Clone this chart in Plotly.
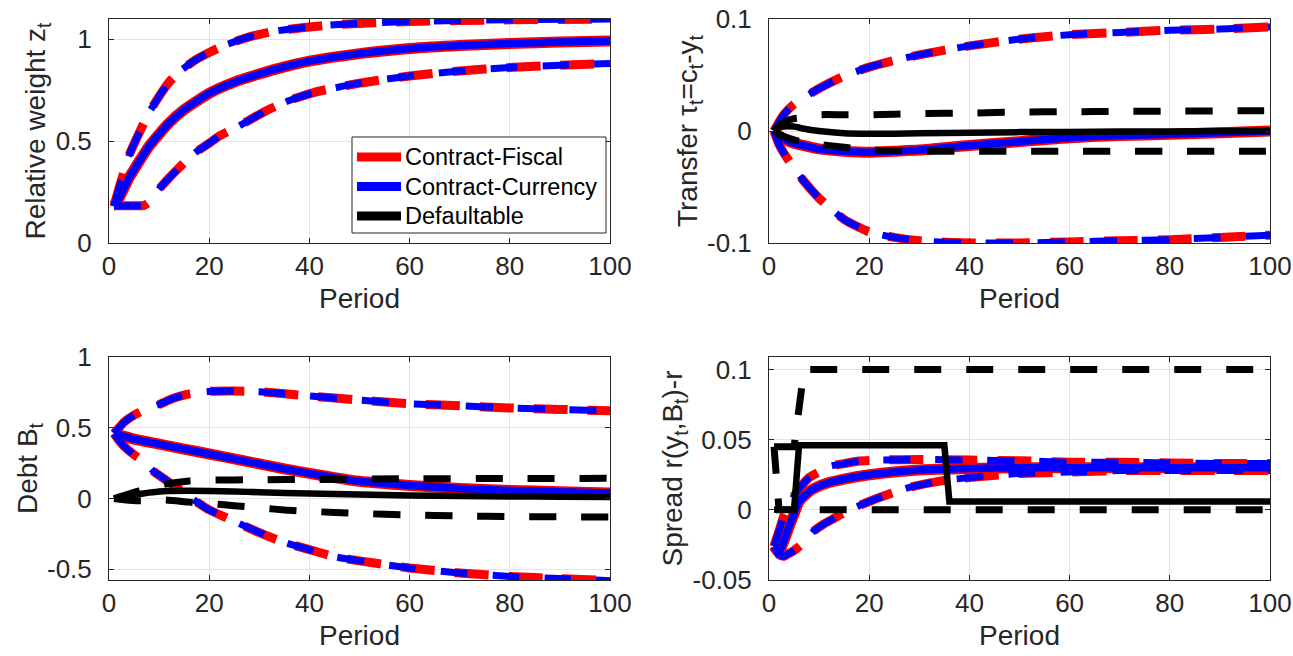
import plotly.graph_objects as go

# ---------------- DATA ----------------
# Panel 1: Relative weight z_t
z_p_mean = [1, 2, 3, 4, 5, 6, 8, 10, 12, 15, 20, 25, 30, 35, 40, 50, 60, 70, 80, 90, 100]
z_fis_mean = [0.185, 0.22, 0.27, 0.32, 0.36, 0.40, 0.475, 0.535, 0.59, 0.655, 0.735, 0.79, 0.83, 0.865, 0.893, 0.93, 0.955, 0.97, 0.98, 0.987, 0.992]
z_p_up = [1, 2, 3, 4, 6, 8, 10, 12, 14, 17, 20, 23, 28, 33, 39, 45, 60, 80, 100]
z_fis_up = [0.18, 0.27, 0.35, 0.43, 0.54, 0.64, 0.72, 0.79, 0.84, 0.895, 0.935, 0.97, 1.012, 1.04, 1.058, 1.072, 1.088, 1.096, 1.1]
z_p_lo = [1, 3, 5, 7, 8, 10, 12, 14, 17, 20, 22, 26, 31, 36, 41, 50, 60, 70, 80, 90, 100]
z_fis_lo = [0.183, 0.183, 0.183, 0.185, 0.2, 0.265, 0.32, 0.37, 0.44, 0.49, 0.525, 0.575, 0.645, 0.70, 0.74, 0.785, 0.82, 0.845, 0.862, 0.873, 0.882]
z_cur_mean = list(z_fis_mean)
z_cur_up = list(z_fis_up)
z_cur_lo = list(z_fis_lo)

# Panel 2: Transfer tau_t = c_t - y_t
tr_p = [1, 2, 3, 5, 7, 10, 15, 20, 25, 30, 40, 50, 60, 70, 80, 90, 100]
tr_fis_up = [0, 0.008, 0.015, 0.024, 0.03, 0.038, 0.049, 0.057, 0.063, 0.068, 0.076, 0.082, 0.086, 0.088, 0.09, 0.091, 0.093]
tr_fis_lo = [0, -0.012, -0.02, -0.033, -0.045, -0.06, -0.079, -0.09, -0.095, -0.098, -0.1, -0.1, -0.099, -0.098, -0.097, -0.095, -0.093]
tr_fis_mean = [0, -0.004, -0.007, -0.011, -0.013, -0.016, -0.018, -0.019, -0.018, -0.017, -0.013, -0.0095, -0.006, -0.004, -0.003, -0.0015, 0]
tr_cur_up = list(tr_fis_up)
tr_cur_lo = list(tr_fis_lo)
tr_cur_mean = list(tr_fis_mean)
tr_def_mean = [0, 0.003, 0.004, 0.004, 0.002, 0, -0.002, -0.0025, -0.0025, -0.002, -0.0015, -0.001, -0.001, -0.0005, -0.0005, 0, 0]
tr_def_up = [0, 0.005, 0.008, 0.011, 0.012, 0.0145, 0.0145, 0.0145, 0.015, 0.0155, 0.016, 0.017, 0.0172, 0.0175, 0.0177, 0.018, 0.018]
tr_def_lo = [0, -0.003, -0.005, -0.008, -0.01, -0.012, -0.0145, -0.017, -0.0175, -0.018, -0.018, -0.018, -0.018, -0.018, -0.018, -0.018, -0.018]

# Panel 3: Debt B_t
db_p_up = [1, 2, 3, 5, 7, 10, 13, 16, 20, 25, 30, 40, 50, 60, 70, 80, 90, 100]
db_fis_up = [0.46, 0.5, 0.54, 0.59, 0.625, 0.665, 0.71, 0.74, 0.757, 0.76, 0.755, 0.725, 0.695, 0.67, 0.655, 0.64, 0.63, 0.62]
db_p_lo = [1, 2, 3, 5, 7, 9, 11, 13, 15, 18, 20, 25, 30, 35, 40, 45, 50, 60, 70, 80, 90, 100]
db_fis_lo = [0.46, 0.41, 0.37, 0.31, 0.26, 0.19, 0.14, 0.09, 0.04, -0.035, -0.08, -0.16, -0.24, -0.31, -0.36, -0.41, -0.44, -0.49, -0.525, -0.55, -0.565, -0.58]
db_p_mean = [1, 3, 5, 10, 15, 20, 25, 30, 35, 40, 45, 50, 60, 70, 80, 90, 100]
db_fis_mean = [0.46, 0.44, 0.42, 0.385, 0.35, 0.315, 0.28, 0.245, 0.21, 0.178, 0.148, 0.122, 0.093, 0.072, 0.058, 0.048, 0.04]
db_cur_up = list(db_fis_up)
db_cur_lo = list(db_fis_lo)
db_cur_mean = list(db_fis_mean)
db_p_def = [1, 2, 3, 5, 8, 10, 15, 20, 25, 30, 40, 50, 60, 70, 80, 90, 100]
db_def_mean = [0, 0.008, 0.015, 0.027, 0.042, 0.05, 0.055, 0.054, 0.05, 0.045, 0.036, 0.028, 0.022, 0.018, 0.015, 0.013, 0.011]
db_p_def_up = [1, 6, 11, 16, 20, 30, 40, 60, 80, 100]
db_def_up = [0, 0.055, 0.1, 0.125, 0.13, 0.133, 0.135, 0.14, 0.142, 0.143]
db_p_def_lo = [1, 3, 6, 11, 16, 20, 25, 30, 35, 40, 50, 60, 70, 80, 100]
db_def_lo = [0, -0.008, -0.015, -0.01, -0.025, -0.035, -0.05, -0.065, -0.08, -0.09, -0.105, -0.115, -0.122, -0.127, -0.13]

# Panel 4: Spread r(y_t,B_t)-r
sp_p_mean = [1, 2, 3, 4, 5, 6, 8, 10, 12, 15, 20, 25, 30, 40, 50, 60, 80, 100]
sp_fis_mean = [-0.026, -0.03, -0.022, -0.012, -0.003, 0.006, 0.013, 0.017, 0.0195, 0.022, 0.025, 0.027, 0.0285, 0.0295, 0.03, 0.03, 0.03, 0.03]
sp_p_up = [1, 2, 3, 4, 5, 6, 8, 10, 12, 15, 18, 22, 30, 40, 50, 60, 70, 80, 90, 100]
sp_fis_up = [-0.026, -0.015, -0.004, 0.004, 0.01, 0.015, 0.023, 0.027, 0.031, 0.033, 0.0348, 0.0355, 0.036, 0.0355, 0.035, 0.034, 0.034, 0.0335, 0.033, 0.033]
sp_p_lo = [1, 2, 3, 4, 5, 7, 9, 11, 13, 15, 18, 20, 23, 28, 35, 40, 50, 60, 70, 80, 90, 100]
sp_fis_lo = [-0.026, -0.032, -0.033, -0.031, -0.029, -0.023, -0.015, -0.01, -0.006, -0.002, 0.003, 0.006, 0.01, 0.016, 0.021, 0.023, 0.026, 0.027, 0.028, 0.028, 0.028, 0.028]
sp_cur_mean = list(sp_fis_mean)
sp_cur_up = list(sp_fis_up)
sp_cur_lo = list(sp_fis_lo)
sp_p_def = [1, 5, 6, 35, 36, 100]
sp_def_mean = [0, 0, 0.046, 0.046, 0.006, 0.006]
sp_p_def_up = [1, 5, 7, 100]
sp_def_up = [0.045, 0.045, 0.1, 0.1]
sp_p_def_lo = [1, 2, 100]
sp_def_lo = [0.045, 0, 0]

# Ticks / labels
x_ticks = [0, 20, 40, 60, 80, 100]
y1_ticks = [0, 0.5, 1]
y1_text = ["0", "0.5", "1"]
y2_ticks = [-0.1, 0, 0.1]
y2_text = ["-0.1", "0", "0.1"]
y3_ticks = [-0.5, 0, 0.5, 1]
y3_text = ["-0.5", "0", "0.5", "1"]
y4_ticks = [-0.05, 0, 0.05, 0.1]
y4_text = ["-0.05", "0", "0.05", "0.1"]
legend_names = ["Contract-Fiscal", "Contract-Currency", "Defaultable"]

# ---------------- FIGURE ----------------
RED, BLUE, BLACK = "#ff0000", "#0000ff", "#000000"
DASH_R = "34px,20px"
DASH_B = "27px,25px"
DASH_K = "27px,25px"
FONT = "Liberation Sans, Arial, sans-serif"

fig = go.Figure()


def add(ax, x, y, color, width, dash="solid", shape="spline"):
    xa, ya = ax
    fig.add_trace(go.Scatter(
        x=x, y=y, mode="lines", xaxis=xa, yaxis=ya,
        line=dict(color=color, width=width, dash=dash, shape=shape, smoothing=0.6),
        showlegend=False, hoverinfo="skip"))


def panel(ax, p_mean, fm, cm, p_up, fu, cu, p_lo, fl, cl):
    add(ax, p_mean, fm, RED, 11)
    add(ax, p_up, fu, RED, 9, DASH_R)
    add(ax, p_lo, fl, RED, 9, DASH_R)
    add(ax, p_mean, cm, BLUE, 7.5)
    add(ax, p_up, cu, BLUE, 7, DASH_B)
    add(ax, p_lo, cl, BLUE, 7, DASH_B)


A1, A2, A3, A4 = ("x", "y"), ("x2", "y2"), ("x3", "y3"), ("x4", "y4")

panel(A1, z_p_mean, z_fis_mean, z_cur_mean, z_p_up, z_fis_up, z_cur_up, z_p_lo, z_fis_lo, z_cur_lo)

panel(A2, tr_p, tr_fis_mean, tr_cur_mean, tr_p, tr_fis_up, tr_cur_up, tr_p, tr_fis_lo, tr_cur_lo)
add(A2, tr_p, tr_def_mean, BLACK, 6.5)
add(A2, tr_p, tr_def_up, BLACK, 7, DASH_K)
add(A2, tr_p, tr_def_lo, BLACK, 7, DASH_K)

panel(A3, db_p_mean, db_fis_mean, db_cur_mean, db_p_up, db_fis_up, db_cur_up, db_p_lo, db_fis_lo, db_cur_lo)
add(A3, db_p_def, db_def_mean, BLACK, 6.5)
add(A3, db_p_def_up, db_def_up, BLACK, 7, DASH_K)
add(A3, db_p_def_lo, db_def_lo, BLACK, 7, DASH_K)

panel(A4, sp_p_mean, sp_fis_mean, sp_cur_mean, sp_p_up, sp_fis_up, sp_cur_up, sp_p_lo, sp_fis_lo, sp_cur_lo)
add(A4, sp_p_def, sp_def_mean, BLACK, 6.5, shape="linear")
add(A4, sp_p_def_up, sp_def_up, BLACK, 7, DASH_K, shape="linear")
add(A4, sp_p_def_lo, sp_def_lo, BLACK, 7, DASH_K, shape="linear")

W, H = 1293, 656
MR = 23
PW = W - MR
xl = [109 / PW, 610 / PW]
xr = [769 / PW, 1270 / PW]
yt = [1 - 243 / H, 1 - 19 / H]
yb = [1 - 580 / H, 1 - 357 / H]

AXC = "#262626"
GRID = "#e4e4e4"


def px_x(v):
    return v / PW


def px_y(v):
    return 1 - v / H


# Legend box (MATLAB style) drawn with shapes + text
shapes = [dict(type="rect", xref="paper", yref="paper",
               x0=px_x(352), x1=px_x(606), y0=px_y(233), y1=px_y(137),
               line=dict(color=AXC, width=1), fillcolor="white", layer="above")]
annotations = []
for i, (name, col) in enumerate(zip(legend_names, [RED, BLUE, BLACK])):
    yy = 157 + 29.5 * i
    shapes.append(dict(type="line", xref="paper", yref="paper",
                       x0=px_x(357), x1=px_x(401), y0=px_y(yy), y1=px_y(yy),
                       line=dict(color=col, width=9), layer="above"))
    annotations.append(dict(text=name, xref="paper", yref="paper", x=px_x(403), y=px_y(yy),
                            xanchor="left", yanchor="middle", showarrow=False,
                            font=dict(size=23.5, color="black", family=FONT)))


def xax(dom, anchor):
    return dict(domain=dom, anchor=anchor, range=[0, 100], tickvals=x_ticks,
                ticks="inside", ticklen=5, tickcolor=AXC, showline=True, linecolor=AXC,
                linewidth=1, mirror="ticks", showgrid=True, gridcolor=GRID, gridwidth=1,
                zeroline=False, tickfont=dict(size=26, color=AXC, family=FONT),
                title=dict(text="Period", font=dict(size=28, color=AXC, family=FONT), standoff=8),
                automargin=False, fixedrange=True)


def yax(dom, anchor, rng, tv, tt, title):
    return dict(domain=dom, anchor=anchor, range=rng, tickvals=tv, ticktext=tt,
                ticks="inside", ticklen=5, tickcolor=AXC, showline=True, linecolor=AXC,
                linewidth=1, mirror="ticks", showgrid=True, gridcolor=GRID, gridwidth=1,
                zeroline=False, tickfont=dict(size=26, color=AXC, family=FONT),
                ticklabelstandoff=11,
                title=dict(text=title, font=dict(size=28, color=AXC, family=FONT), standoff=1),
                automargin=False, fixedrange=True)


fig.update_layout(
    width=W, height=H,
    margin=dict(l=0, r=MR, t=0, b=0),
    paper_bgcolor="white", plot_bgcolor="white",
    font=dict(family=FONT, color=AXC),
    xaxis=xax(xl, "y"),
    yaxis=yax(yt, "x", [0, 1.1], y1_ticks, y1_text, "Relative weight z<sub>t</sub>"),
    xaxis2=xax(xr, "y2"),
    yaxis2=yax(yt, "x2", [-0.1, 0.1], y2_ticks, y2_text, "Transfer τ<sub>t</sub>=c<sub>t</sub>-y<sub>t</sub>"),
    xaxis3=xax(xl, "y3"),
    yaxis3=yax(yb, "x3", [-0.575, 1], y3_ticks, y3_text, "Debt B<sub>t</sub>"),
    xaxis4=xax(xr, "y4"),
    yaxis4=yax(yb, "x4", [-0.05, 0.109], y4_ticks, y4_text, "Spread r(y<sub>t</sub>,B<sub>t</sub>)-r"),
    showlegend=False,
    shapes=shapes,
    annotations=annotations,
)

fig.write_html("out.html", config={"displayModeBar": False},
               post_script="document.body.style.margin='0px';document.body.style.overflow='hidden';")
